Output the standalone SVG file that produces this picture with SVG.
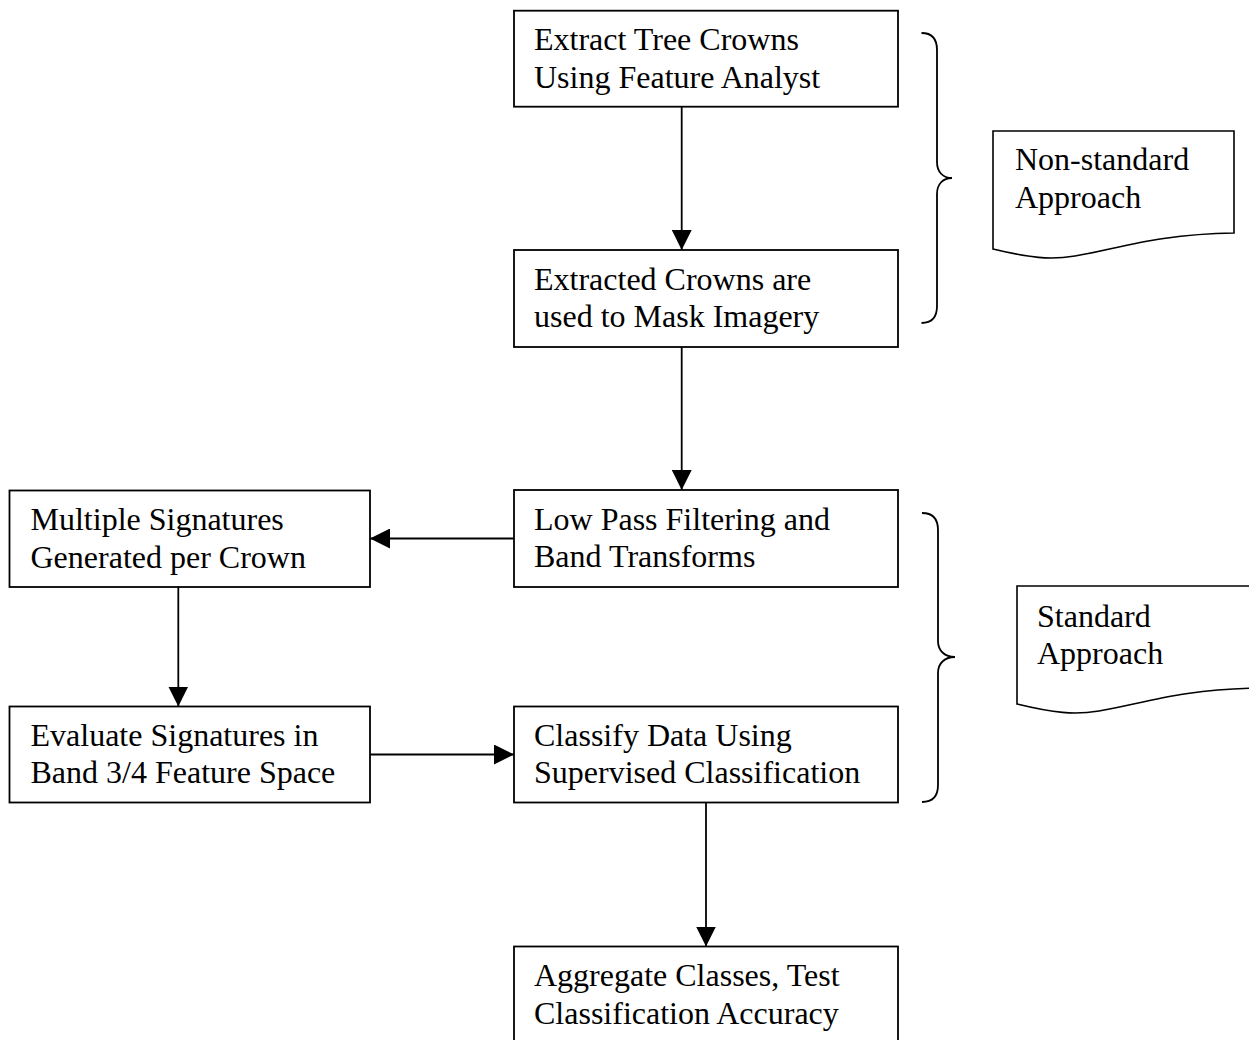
<svg xmlns="http://www.w3.org/2000/svg" width="1249" height="1040" viewBox="0 0 1249 1040">
<defs>
<style>
.box{fill:#fff;stroke:#000;stroke-width:1.8}
.lbl{font-family:"Liberation Serif","Times New Roman",serif;font-size:32px;fill:#000}
.conn{stroke:#000;stroke-width:1.8;fill:none}
.brace{stroke:#000;stroke-width:1.8;fill:none}
.doc{fill:#fff;stroke:#000;stroke-width:1.6}
</style>
<marker id="ah" viewBox="0 0 20 20" refX="20" refY="10" markerWidth="20" markerHeight="20" markerUnits="userSpaceOnUse" orient="auto">
<path d="M0,0 L20,10 L0,20 Z" fill="#000"/>
</marker>
</defs>
<rect width="1249" height="1040" fill="#fff"/>

<g id="connectors">
<line class="conn" x1="681.7" y1="107" x2="681.7" y2="250" marker-end="url(#ah)"/>
<line class="conn" x1="681.7" y1="347" x2="681.7" y2="490" marker-end="url(#ah)"/>
<line class="conn" x1="514" y1="538.5" x2="370" y2="538.5" marker-end="url(#ah)"/>
<line class="conn" x1="178.3" y1="587" x2="178.3" y2="706.5" marker-end="url(#ah)"/>
<line class="conn" x1="370" y1="754.5" x2="514" y2="754.5" marker-end="url(#ah)"/>
<line class="conn" x1="706" y1="803" x2="706" y2="946.5" marker-end="url(#ah)"/>
</g>

<g id="n-extract">
<rect class="box" x="514" y="10.7" width="384" height="96"/>
<text class="lbl" x="534" y="50">Extract Tree Crowns</text>
<text class="lbl" x="534" y="88">Using Feature Analyst</text>
</g>

<g id="n-mask">
<rect class="box" x="514" y="250" width="384" height="97"/>
<text class="lbl" x="534" y="289.5">Extracted Crowns are</text>
<text class="lbl" x="534" y="327">used to Mask Imagery</text>
</g>

<g id="n-lowpass">
<rect class="box" x="514" y="490" width="384" height="97"/>
<text class="lbl" x="534" y="529.5">Low Pass Filtering and</text>
<text class="lbl" x="534" y="567">Band Transforms</text>
</g>

<g id="n-multiple">
<rect class="box" x="9.5" y="490.5" width="360.5" height="96.5"/>
<text class="lbl" x="30.5" y="530">Multiple Signatures</text>
<text class="lbl" x="30.5" y="567.5">Generated per Crown</text>
</g>

<g id="n-evaluate">
<rect class="box" x="9.5" y="706.5" width="360.5" height="96"/>
<text class="lbl" x="30.5" y="746">Evaluate Signatures in</text>
<text class="lbl" x="30.5" y="783">Band 3/4 Feature Space</text>
</g>

<g id="n-classify">
<rect class="box" x="514" y="706.5" width="384" height="96"/>
<text class="lbl" x="534" y="746">Classify Data Using</text>
<text class="lbl" x="534" y="783">Supervised Classification</text>
</g>

<g id="n-aggregate">
<rect class="box" x="514" y="946.5" width="384" height="100"/>
<text class="lbl" x="534" y="986">Aggregate Classes, Test</text>
<text class="lbl" x="534" y="1023.5">Classification Accuracy</text>
</g>

<g id="brace-nonstandard">
<path class="brace" d="M921.5,33 C931,33 937,38 937,50 L937,162 C937,172 943,178 952,178 C943,178 937,184 937,194 L937,306 C937,318 931,323 921.5,323"/>
</g>

<g id="n-nonstandard">
<path class="doc" d="M993,131 L1234,131 L1234,233 C1160,234 1120,248 1075,256 C1050,260 1030,258 993,249 Z"/>
<text class="lbl" x="1015" y="170">Non-standard</text>
<text class="lbl" x="1015" y="208">Approach</text>
</g>

<g id="brace-standard">
<path class="brace" d="M922,513 C932,513 938,518 938,530 L938,641 C938,651 945,657 955,657 C945,657 938,663 938,673 L938,785 C938,797 932,802 922,802"/>
</g>

<g id="n-standard">
<path class="doc" d="M1017,586 L1258,586 L1258,688 C1184,689 1144,703 1099,711 C1074,715 1054,713 1017,704 Z"/>
<text class="lbl" x="1037" y="627">Standard</text>
<text class="lbl" x="1037" y="664">Approach</text>
</g>
</svg>
